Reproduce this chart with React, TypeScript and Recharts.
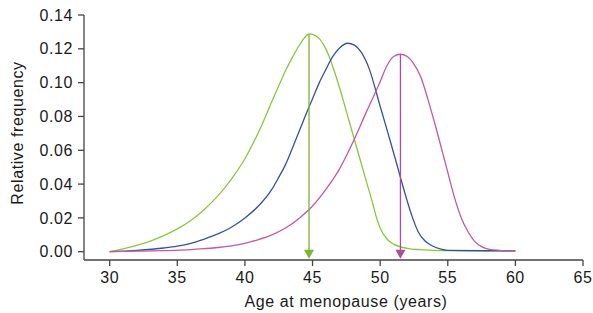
import React from 'react';
import { LineChart, Line, XAxis, YAxis, ReferenceLine, ReferenceDot } from 'recharts';

const greenAge = [30, 31, 32, 33, 34, 35, 36, 37, 38, 39, 40, 40.5, 41, 41.5, 42, 42.5, 43, 43.5, 44, 44.4, 44.74, 45.1, 45.5, 45.85, 46.2, 46.6, 47, 47.5, 48, 48.5, 49, 49.4, 49.7, 50, 50.5, 51, 52, 53, 54, 55, 60];
const greenFreq = [0.0, 0.0017, 0.0038, 0.0063, 0.0095, 0.0135, 0.0185, 0.025, 0.033, 0.043, 0.055, 0.0625, 0.0705, 0.0795, 0.089, 0.098, 0.107, 0.1148, 0.1218, 0.1265, 0.1288, 0.1283, 0.126, 0.122, 0.116, 0.107, 0.097, 0.083, 0.069, 0.055, 0.041, 0.03, 0.021, 0.014, 0.0075, 0.0045, 0.002, 0.0012, 0.0008, 0.0006, 0.0005];

const blueAge = [30, 32, 34, 35, 36, 37, 38, 39, 40, 41, 42, 42.5, 43, 43.5, 44, 44.5, 45, 45.5, 46, 46.5, 47, 47.6, 48.1, 48.6, 49.2, 50, 50.8, 51.5, 52, 52.4, 52.8, 53.3, 53.8, 54.5, 55, 60];
const blueFreq = [0.0, 0.0008, 0.0022, 0.0033, 0.005, 0.0075, 0.0105, 0.0145, 0.02, 0.027, 0.037, 0.044, 0.0515, 0.061, 0.071, 0.081, 0.0905, 0.1, 0.108, 0.1155, 0.1205, 0.1233, 0.1222, 0.118, 0.108, 0.086, 0.064, 0.044, 0.03, 0.02, 0.012, 0.0065, 0.0037, 0.0015, 0.0008, 0.0005];

const pinkAge = [30, 32, 34, 36, 37, 38, 39, 40, 41, 42, 43, 44, 45, 46, 47, 48, 49, 50, 50.5, 51, 51.5, 52, 52.5, 53, 53.5, 54, 55, 55.5, 56, 56.5, 57, 57.5, 58, 59, 60];
const pinkFreq = [0.0, 0.0003, 0.0006, 0.0012, 0.0018, 0.0025, 0.0035, 0.005, 0.0072, 0.01, 0.014, 0.0197, 0.027, 0.037, 0.049, 0.065, 0.083, 0.1005, 0.11, 0.1155, 0.1168, 0.1155, 0.111, 0.1035, 0.091, 0.077, 0.047, 0.032, 0.02, 0.0118, 0.006, 0.003, 0.0015, 0.0007, 0.0005];

const xTicks = [30, 35, 40, 45, 50, 55, 60, 65];
const yTicks = [0, 0.02, 0.04, 0.06, 0.08, 0.1, 0.12, 0.14];

const greenArrow = { age: 44.74, top: 0.1288 };
const pinkArrow = { age: 51.5, top: 0.1168 };

const toRows = (ages: number[], vals: number[]) => ages.map((a, i) => ({ age: a, freq: vals[i] }));

const greenData = toRows(greenAge, greenFreq);
const blueData = toRows(blueAge, blueFreq);
const pinkData = toRows(pinkAge, pinkFreq);

const FONT = '"Liberation Sans", Arial, Helvetica, sans-serif';
const AXIS = '#444';

const arrowHead = (color: string) => (props: any) => {
  const { cx, cy } = props;
  return <path d={`M${cx - 5},${cy - 2} L${cx + 5},${cy - 2} L${cx},${cy + 7} Z`} fill={color} stroke="none" />;
};

const tickStyle = { fontSize: 16, fill: '#1a1a1a', fontFamily: FONT, letterSpacing: 0.6 };

export default function App() {
  return (
    <div style={{ position: 'absolute', left: 0, top: 0, background: '#fff' }}>
      <LineChart width={593} height={313} margin={{ top: 15, right: 10, bottom: 0, left: 0 }}>
        <XAxis
          type="number"
          dataKey="age"
          domain={[28.1, 65]}
          ticks={xTicks}
          allowDataOverflow
          stroke={AXIS}
          strokeWidth={1.3}
          tickSize={6}
          tickMargin={6}
          height={53}
          tick={tickStyle}
          tickLine={{ stroke: AXIS }}
          label={() => (
            <text x={346} y={307} textAnchor="middle" fontSize={16} fontFamily={FONT} fill="#1a1a1a" letterSpacing={0.6}>
              Age at menopause (years)
            </text>
          )}
        />
        <YAxis
          type="number"
          domain={[-0.0049, 0.14]}
          ticks={yTicks}
          allowDataOverflow
          width={84}
          stroke={AXIS}
          strokeWidth={1.3}
          tickSize={6}
          tickMargin={5}
          tick={tickStyle}
          tickFormatter={(v: number) => v.toFixed(2)}
          label={() => (
            <text x={0} y={0} transform="translate(23,133) rotate(-90)" textAnchor="middle" fontSize={16} fontFamily={FONT} fill="#1a1a1a" letterSpacing={0.6}>
              Relative frequency
            </text>
          )}
        />
        <Line data={greenData} dataKey="freq" type="monotone" stroke="#8cc63f" strokeWidth={1.3} dot={false} isAnimationActive={false} />
        <Line data={blueData} dataKey="freq" type="monotone" stroke="#3452a2" strokeWidth={1.3} dot={false} isAnimationActive={false} />
        <Line data={pinkData} dataKey="freq" type="monotone" stroke="#c457a6" strokeWidth={1.3} dot={false} isAnimationActive={false} />
        <ReferenceLine
          segment={[{ x: greenArrow.age, y: greenArrow.top }, { x: greenArrow.age, y: 0 }]}
          stroke="#7cb52f"
          strokeWidth={1.3}
        />
        <ReferenceLine
          segment={[{ x: pinkArrow.age, y: pinkArrow.top }, { x: pinkArrow.age, y: 0 }]}
          stroke="#b24a9b"
          strokeWidth={1.3}
        />
        <ReferenceDot x={greenArrow.age} y={0} r={5} shape={arrowHead('#7cb52f')} />
        <ReferenceDot x={pinkArrow.age} y={0} r={5} shape={arrowHead('#b24a9b')} />
      </LineChart>
    </div>
  );
}
